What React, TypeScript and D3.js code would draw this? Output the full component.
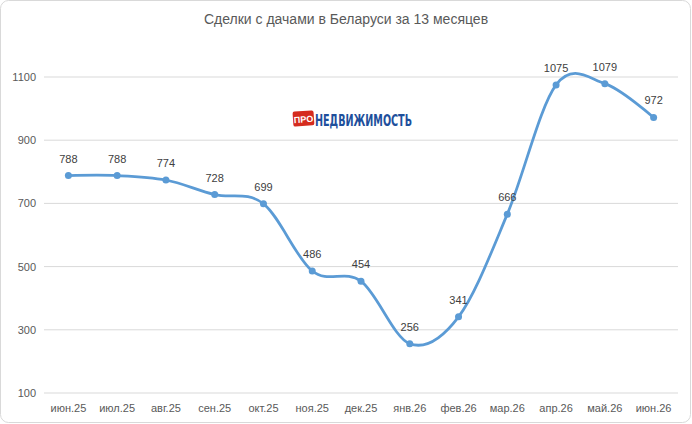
import React from "react";
import * as d3 from "d3";

const categories = ["июн.25", "июл.25", "авг.25", "сен.25", "окт.25", "ноя.25", "дек.25", "янв.26", "фев.26", "мар.26", "апр.26", "май.26", "июн.26"];
const values = [788, 788, 774, 728, 699, 486, 454, 256, 341, 666, 1075, 1079, 972];
const yTicks = [100, 300, 500, 700, 900, 1100];
const title = "Сделки с дачами в Беларуси за 13 месяцев";

const W = 692;
const H = 424;
const plot = { left: 44, right: 678, top: 77, bottom: 393 };
const textColor = "#595959";
const lineColor = "#5b9bd5";
const gridColor = "#d9d9d9";
const font = "'Liberation Sans', Arial, sans-serif";

export default function App() {
  const x = d3.scaleBand<string>().domain(categories).range([plot.left, plot.right]);
  const y = d3.scaleLinear().domain([100, 1100]).range([plot.bottom, plot.top]);
  const cx = (c: string) => (x(c) ?? 0) + x.bandwidth() / 2;
  const pts: [number, number][] = values.map((v, i) => [cx(categories[i]), y(v)]);
  const line = d3.line().curve(d3.curveCardinal.tension(0))(pts) ?? "";

  return (
    <svg width={W} height={H} style={{ position: "absolute", left: 0, top: 0 }}>
      <rect x={0.5} y={0.5} width={W - 2} height={H - 2} rx={8} ry={8} fill="#fff" stroke={gridColor} />
      <text x={W / 2} y={24} textAnchor="middle" fontFamily={font} fontSize={14} fill={textColor}>{title}</text>
      {yTicks.map((t) => (
        <g key={t}>
          <line x1={plot.left} x2={plot.right} y1={y(t)} y2={y(t)} stroke={gridColor} strokeWidth={1} />
          <text x={36} y={y(t) + 4} textAnchor="end" fontFamily={font} fontSize={11} fill={textColor}>{t}</text>
        </g>
      ))}
      {categories.map((c) => (
        <text key={c} x={cx(c)} y={412} textAnchor="middle" fontFamily={font} fontSize={11} fill={textColor}>{c}</text>
      ))}
      <g transform="translate(293,111)">
        <g transform="rotate(-4 10 8)">
          <rect x={0} y={0} width={21} height={15} rx={2} fill="#d52b1e" />
          <text x={10.5} y={11.5} textAnchor="middle" fontFamily={font} fontWeight="bold" fontSize={9} fill="#fff">ПРО</text>
        </g>
        <text x={22} y={14.5} fontFamily="'Liberation Sans Narrow', 'DejaVu Sans Condensed', sans-serif" fontWeight="bold" fontSize={16} fill="#1e4f9c" textLength={97} lengthAdjust="spacingAndGlyphs">НЕДВИЖИМОСТЬ</text>
      </g>
      <path d={line} fill="none" stroke={lineColor} strokeWidth={2.75} strokeLinecap="round" />
      {pts.map(([px, py], i) => (
        <g key={i}>
          <circle cx={px} cy={py} r={3.5} fill={lineColor} />
          <text x={px} y={py - 13} textAnchor="middle" fontFamily={font} fontSize={11} fill="#404040">{values[i]}</text>
        </g>
      ))}
    </svg>
  );
}
